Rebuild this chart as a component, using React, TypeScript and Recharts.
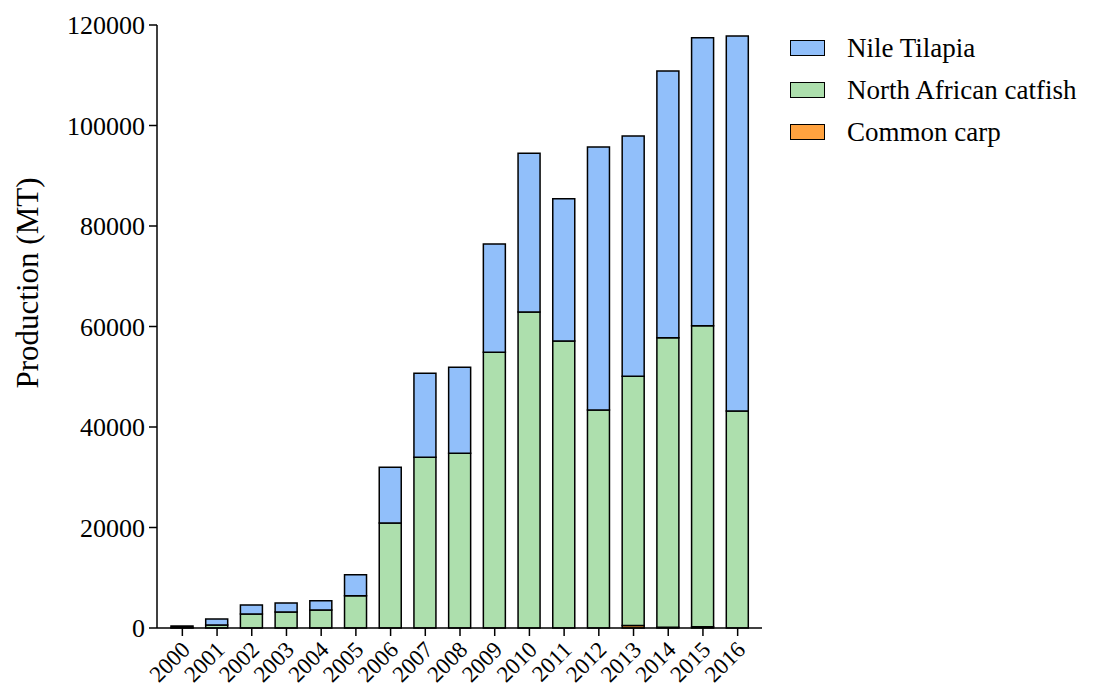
import { Bar, BarChart, XAxis, YAxis } from "recharts";

const years = [
  "2000", "2001", "2002", "2003", "2004", "2005", "2006", "2007", "2008",
  "2009", "2010", "2011", "2012", "2013", "2014", "2015", "2016",
];
const commonCarp = [0, 0, 0, 0, 0, 0, 0, 0, 0, 0, 0, 0, 0, 500, 150, 250, 0];
const catfish = [
  100, 600, 2800, 3200, 3600, 6400, 20900, 34000, 34800, 54900, 62900, 57100,
  43400, 49600, 57600, 59900, 43200,
];
const tilapia = [
  300, 1200, 1800, 1800, 1800, 4200, 11100, 16700, 17100, 21500, 31600, 28300,
  52300, 47800, 53100, 57300, 74600,
];
const yTicks = [0, 20000, 40000, 60000, 80000, 100000, 120000];

const series = [
  { key: "tilapia", name: "Nile Tilapia", color: "#91bffa" },
  { key: "catfish", name: "North African catfish", color: "#addfad" },
  { key: "carp", name: "Common carp", color: "#ffa23f" },
];

const data = years.map((year, i) => ({
  year,
  carp: commonCarp[i],
  catfish: catfish[i],
  tilapia: tilapia[i],
}));

const FONT = '"Liberation Serif", "Times New Roman", serif';

function YearTick(props: any) {
  const { x, y, payload } = props;
  const ax = x + 9;
  const ay = y + 13;
  return (
    <text
      x={ax}
      y={ay}
      transform={`rotate(-45, ${ax}, ${ay})`}
      textAnchor="end"
      fontFamily={FONT}
      fontSize={23}
      fill="#000"
    >
      {payload.value}
    </text>
  );
}

function AxisTitle() {
  return (
    <text
      x={38}
      y={283}
      transform="rotate(-90, 38, 283)"
      textAnchor="middle"
      fontFamily={FONT}
      fontSize={31}
      fill="#000"
    >
      Production (MT)
    </text>
  );
}

export default function App() {
  return (
    <div
      style={{
        position: "absolute",
        left: 0,
        top: 0,
        width: 1099,
        height: 688,
        background: "#fff",
        fontFamily: FONT,
      }}
    >
      <BarChart
        width={1099}
        height={688}
        data={data}
        margin={{ top: 25, right: 337, left: 0, bottom: 0 }}
        barSize={22}
      >
        <XAxis
          dataKey="year"
          interval={0}
          height={60}
          padding={{ left: 8, right: 7 }}
          tickSize={8}
          axisLine={{ stroke: "#000", strokeWidth: 1.5 }}
          tickLine={{ stroke: "#000", strokeWidth: 1.5 }}
          tick={<YearTick />}
        />
        <YAxis
          width={157}
          domain={[0, 120000]}
          ticks={yTicks}
          interval={0}
          tickSize={8}
          tickMargin={4}
          axisLine={{ stroke: "#000", strokeWidth: 1.5 }}
          tickLine={{ stroke: "#000", strokeWidth: 1.5 }}
          tick={{ fontFamily: FONT, fontSize: 26, fill: "#000" }}
          label={<AxisTitle />}
        />
        <Bar
          dataKey="carp"
          name="Common carp"
          stackId="a"
          fill="#ffa23f"
          stroke="#000"
          strokeWidth={1.5}
          isAnimationActive={false}
        />
        <Bar
          dataKey="catfish"
          name="North African catfish"
          stackId="a"
          fill="#addfad"
          stroke="#000"
          strokeWidth={1.5}
          isAnimationActive={false}
        />
        <Bar
          dataKey="tilapia"
          name="Nile Tilapia"
          stackId="a"
          fill="#91bffa"
          stroke="#000"
          strokeWidth={1.5}
          isAnimationActive={false}
        />
      </BarChart>
      <div style={{ position: "absolute", left: 790, top: 27 }}>
        {series.map((s) => (
          <div
            key={s.key}
            style={{ display: "flex", alignItems: "center", height: 42 }}
          >
            <div
              style={{
                width: 33,
                height: 14,
                background: s.color,
                border: "1.5px solid #000",
                marginRight: 22,
              }}
            />
            <span style={{ fontSize: 27, color: "#000", lineHeight: "42px" }}>
              {s.name}
            </span>
          </div>
        ))}
      </div>
    </div>
  );
}
